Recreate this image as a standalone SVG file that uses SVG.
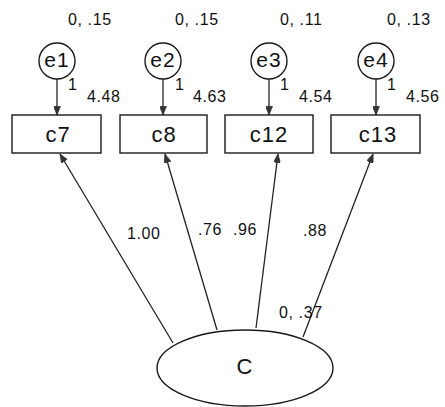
<svg xmlns="http://www.w3.org/2000/svg" width="445" height="407" viewBox="0 0 445 407">
<defs>
<marker id="ah" viewBox="0 0 10 8" refX="10" refY="4" markerWidth="9" markerHeight="7" markerUnits="userSpaceOnUse" orient="auto">
<path d="M0,0 L10,4 L0,8 Z" fill="#333" stroke="#333" stroke-width="0.8"/>
</marker>
<style>
.n{fill:#fff;stroke:#1a1a1a;stroke-width:1.4}
.t{font-family:"Liberation Sans",Arial,sans-serif;fill:#111}
.big{font-size:22px;letter-spacing:1px;text-anchor:middle}
.sm{font-size:16px;letter-spacing:0.6px}
.c{stroke:#222;stroke-width:1.3;fill:none;marker-end:url(#ah)}
</style>
</defs>
<rect width="445" height="407" fill="#fff"/>
<g id="connectors">
<line class="c" x1="57" y1="79" x2="57" y2="115"/>
<line class="c" x1="163" y1="79" x2="163" y2="115"/>
<line class="c" x1="269" y1="79" x2="269" y2="115"/>
<line class="c" x1="376" y1="79" x2="376" y2="115"/>
<line class="c" x1="173" y1="343" x2="60" y2="154"/>
<line class="c" x1="217" y1="330" x2="165" y2="154"/>
<line class="c" x1="256" y1="328" x2="278" y2="154"/>
<line class="c" x1="303" y1="337" x2="373" y2="154"/>
</g>
<g id="e1"><circle class="n" cx="57" cy="61" r="18"/><text class="t big" x="57" y="67" style="font-size:21px">e1</text></g>
<g id="e2"><circle class="n" cx="163" cy="61" r="18"/><text class="t big" x="163" y="67" style="font-size:21px">e2</text></g>
<g id="e3"><circle class="n" cx="269" cy="61" r="18"/><text class="t big" x="269" y="67" style="font-size:21px">e3</text></g>
<g id="e4"><circle class="n" cx="376" cy="61" r="18"/><text class="t big" x="376" y="67" style="font-size:21px">e4</text></g>
<g id="c7"><rect class="n" x="12" y="115" width="89" height="38"/><text class="t big" x="58" y="142">c7</text></g>
<g id="c8"><rect class="n" x="120" y="115" width="87" height="38"/><text class="t big" x="164" y="142">c8</text></g>
<g id="c12"><rect class="n" x="225" y="115" width="88" height="38"/><text class="t big" x="269" y="142">c12</text></g>
<g id="c13"><rect class="n" x="331" y="115" width="89" height="38"/><text class="t big" x="378" y="142">c13</text></g>
<g id="C"><ellipse class="n" cx="245" cy="368" rx="88" ry="38"/><text class="t big" x="245" y="374" style="font-size:22px">C</text></g>
<g id="labels">
<text class="t sm" x="68" y="25">0, .15</text>
<text class="t sm" x="175" y="25">0, .15</text>
<text class="t sm" x="280" y="25">0, .11</text>
<text class="t sm" x="387" y="25">0, .13</text>
<text class="t sm" x="68" y="90">1</text>
<text class="t sm" x="175" y="90">1</text>
<text class="t sm" x="280" y="90">1</text>
<text class="t sm" x="387" y="90">1</text>
<text class="t sm" x="87" y="102">4.48</text>
<text class="t sm" x="193" y="102">4.63</text>
<text class="t sm" x="299" y="102">4.54</text>
<text class="t sm" x="406" y="102">4.56</text>
<text class="t sm" x="127" y="239">1.00</text>
<text class="t sm" x="198" y="235">.76</text>
<text class="t sm" x="233" y="235">.96</text>
<text class="t sm" x="303" y="236">.88</text>
<text class="t sm" x="279" y="318">0, .37</text>
</g>
</svg>
